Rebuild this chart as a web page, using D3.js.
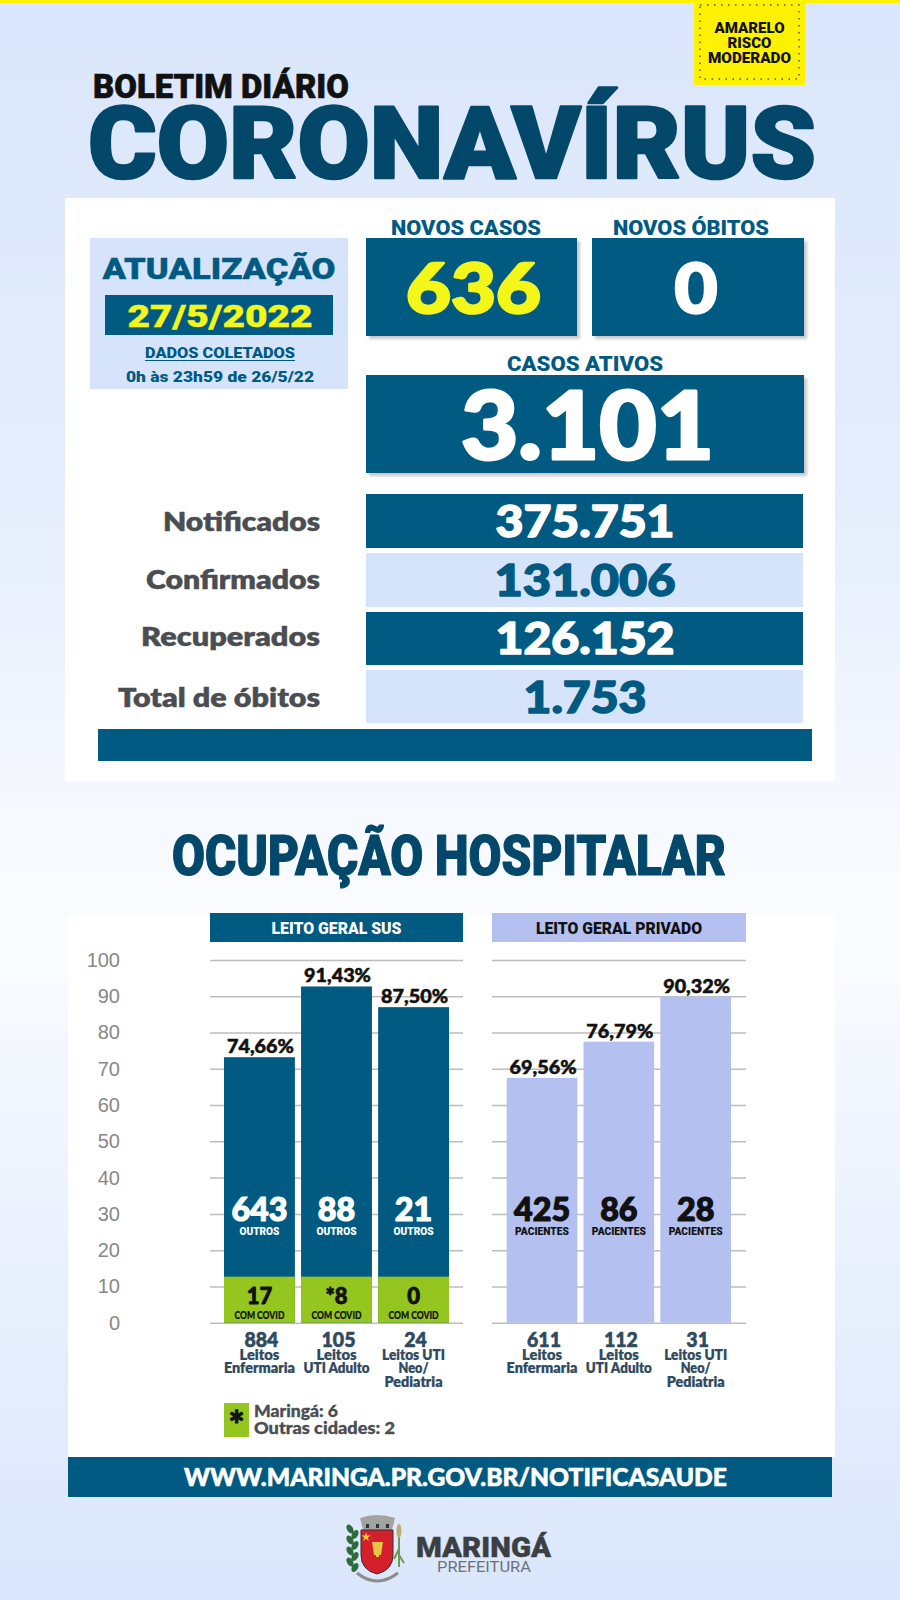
<!DOCTYPE html>
<html>
<head>
<meta charset="utf-8">
<script src="https://cdn.jsdelivr.net/npm/d3@7"></script>
<style>
  html, body { margin: 0; padding: 0; background: #fff; }
  svg { display: block; }
</style>
</head>
<body>
<svg id="chartSVG"></svg>
<script>
// values
let riskLines = ['AMARELO', 'RISCO', 'MODERADO'];
let headlineLabels = ['NOVOS CASOS', 'NOVOS ÓBITOS'];
let headlineValues = ['636', '0'];
let activeCases = '3.101';
let totalLabels = ['Notificados', 'Confirmados', 'Recuperados', 'Total de óbitos'];
let totalValues = ['375.751', '131.006', '126.152', '1.753'];
let totalLeft = [163, 146, 141, 118];

let yTicks = [0, 10, 20, 30, 40, 50, 60, 70, 80, 90, 100];

let bedTypes = [['Leitos', 'Enfermaria'], ['Leitos', 'UTI Adulto'], ['Leitos UTI', 'Neo/', 'Pediatria']];
let bedTypeWidths = [[40, 71], [40, 66], [63, 30, 58]];

let susBarHeights = [73.2, 92.7, 87];
let susCovidHeights = [12.7, 12.7, 12.7];
let susPercent = ['74,66%', '91,43%', '87,50%'];
let susOthers = ['643', '88', '21'];
let susCovid = ['17', '*8', '0'];
let susBeds = ['884', '105', '24'];

let privBarHeights = [67.5, 77.5, 89.9];
let privPercent = ['69,56%', '76,79%', '90,32%'];
let privPatients = ['425', '86', '28'];
let privBeds = ['611', '112', '31'];

let legendLines = ['Maringá: 6', 'Outras cidades: 2'];

let blue = '#005a82';
let titleBlue = '#03486a';
let paleBlue = '#d6e4fb';
let lilac = '#b4c0f0';
let green = '#95c61f';
let yellow = '#fff200';
let slate = '#2f4a60';
let heavy = 'Lato, Roboto, sans-serif';
let din = 'Roboto, Lato, sans-serif';

let SVG = d3.select('svg#chartSVG').attr('width', 900).attr('height', 1600);
let defs = SVG.append('defs');

let bg = defs.append('linearGradient').attr('id', 'bg').attr('x1', 0).attr('x2', 0).attr('y1', 0).attr('y2', 1);
bg.append('stop').attr('offset', '0').attr('stop-color', '#dae6fb');
bg.append('stop').attr('offset', '0.3').attr('stop-color', '#e4edfc');
bg.append('stop').attr('offset', '0.5').attr('stop-color', '#f5f8ff');
bg.append('stop').attr('offset', '0.58').attr('stop-color', '#fafcff');
bg.append('stop').attr('offset', '0.8').attr('stop-color', '#e9f0fd');
bg.append('stop').attr('offset', '1').attr('stop-color', '#dae6fb');

let shadow = defs.append('filter').attr('id', 'shadow').attr('x', '-5%').attr('y', '-5%').attr('width', '110%').attr('height', '115%');
shadow.append('feDropShadow').attr('dx', 3).attr('dy', 3).attr('stdDeviation', 1.5).attr('flood-color', '#000').attr('flood-opacity', 0.22);

function box(x0, y0, x1, y1, fill, useShadow) {
  let r = SVG.append('rect').attr('x', x0).attr('y', y0).attr('width', x1 - x0).attr('height', y1 - y0).attr('fill', fill);
  if (useShadow) r.attr('filter', 'url(#shadow)');
  return r;
}

// text squeezed to the width it has in the picture, stroked to look as heavy as the poster face
function label(parent, str, x, y, size, opts) {
  let o = opts || {};
  let fill = o.fill || '#111';
  let t = parent.append('text')
    .text(str)
    .attr('x', x)
    .attr('y', y)
    .style('font-family', o.font || heavy)
    .style('font-size', size + 'px')
    .style('font-weight', o.weight || 900)
    .style('fill', fill)
    .style('text-anchor', o.anchor || 'middle');
  if (o.width) t.attr('textLength', o.width).attr('lengthAdjust', 'spacingAndGlyphs');
  if (o.heft) t.style('stroke', fill).style('stroke-width', o.heft).style('stroke-linejoin', 'round');
  return t;
}

// page background
box(0, 0, 900, 1600, 'url(#bg)');
box(0, 0, 900, 3, '#fff200');

// risk badge
box(694, 0, 805, 85, yellow);
SVG.append('rect').attr('x', 700).attr('y', 5).attr('width', 99).attr('height', 74)
  .attr('fill', 'none').attr('stroke', '#555').attr('stroke-width', 1.5).attr('stroke-dasharray', '1.5 5.5');
riskLines.forEach((d, i) => label(SVG, d, 749.5, 33 + i * 15, 14, { font: din, width: [70, 44, 83][i] }));

// title
label(SVG, 'BOLETIM DIÁRIO', 93, 98, 33, { font: din, anchor: 'start', width: 256, heft: 0.6 });
label(SVG, 'CORONAVÍRUS', 452, 178, 100, { font: din, fill: titleBlue, width: 728, heft: 2.5 });

// top panel
box(65, 198, 835, 781, '#fff');
box(90, 238, 348, 389, paleBlue);
label(SVG, 'ATUALIZAÇÃO', 219, 279, 30, { font: din, fill: blue, width: 233, heft: 0.4 });
box(105, 295, 333, 335, blue);
label(SVG, '27/5/2022', 220, 327, 32, { font: din, fill: '#f4f61a', width: 185, heft: 0.4 });
label(SVG, 'DADOS COLETADOS', 220, 358, 14, { font: din, fill: blue, width: 150 });
box(145, 360, 295, 361, blue);
label(SVG, '0h às 23h59 de 26/5/22', 220, 382, 14, { font: din, fill: blue, width: 188 });

// headline numbers
let headX = [[366, 577], [592, 804]];
let headLabelWidth = [150, 156];
let headValueWidth = [135, 43];
let headFill = ['#f4f61a', '#fff'];
headlineLabels.forEach((d, i) => {
  box(headX[i][0], 238, headX[i][1], 336, blue, true);
  label(SVG, d, i ? 691 : 466, 235, 20, { font: din, fill: blue, width: headLabelWidth[i] });
  label(SVG, headlineValues[i], i ? 696 : 473.5, 313, 68, { fill: headFill[i], width: headValueWidth[i], heft: 2.5 });
});

label(SVG, 'CASOS ATIVOS', 585, 371, 20, { font: din, fill: blue, width: 156 });
box(366, 375, 804, 473, blue, true);
label(SVG, activeCases, 587.5, 459, 94, { fill: '#fff', width: 253, heft: 3 });

// running totals
let rowY = [[494, 548], [553, 607], [612, 665], [670, 723]];
let rowBase = [537, 596, 654, 713];
let labelBase = [531, 589, 646, 707];
let valueWidth = [179, 181, 179, 123];
totalLabels.forEach((d, i) => {
  let dark = i % 2 == 0;
  box(366, rowY[i][0], 803, rowY[i][1], dark ? blue : paleBlue);
  label(SVG, d, 320, labelBase[i], 26, { anchor: 'end', fill: '#4a4d52', weight: 800, width: 320 - totalLeft[i], heft: 0.4 });
  label(SVG, totalValues[i], 585, rowBase[i], 44, { fill: dark ? '#fff' : blue, width: valueWidth[i], heft: 1.5 });
});
box(98, 729, 812, 761, blue);

// hospital section
label(SVG, 'OCUPAÇÃO HOSPITALAR', 449, 875, 56, { font: din, fill: titleBlue, width: 554, heft: 1.2 });
box(68, 915, 835, 1457, '#fff');

let y = d3.scaleLinear().domain([0, 100]).range([1322.7, 960]);

// y axis labels
let yAxis = SVG.append('g')
  .attr('transform', 'translate(120, 0)')
  .call(d3.axisLeft(y).tickValues(yTicks).tickSize(0).tickPadding(0));
yAxis.select('.domain').remove();
yAxis.selectAll('text')
  .style('font-family', '"Liberation Sans", Arial, sans-serif')
  .style('font-size', '20px')
  .style('fill', '#888');

function drawPanel(opts) {
  let g = SVG.append('g');
  let x = d3.scaleBand().domain(d3.range(3)).range(opts.barRange).paddingInner(0.08);
  let mid = i => x(i) + x.bandwidth() / 2;

  box(opts.gridRange[0], 913, opts.gridRange[1], 942, opts.headFill);
  label(SVG, opts.title, (opts.gridRange[0] + opts.gridRange[1]) / 2, 934, 16, { font: din, fill: opts.headText, width: opts.titleWidth });

  // grid lines come from the axis ticks
  let grid = g.append('g')
    .attr('transform', `translate(${opts.gridRange[0]}, 0)`)
    .call(d3.axisRight(y).tickValues(yTicks).tickSize(opts.gridRange[1] - opts.gridRange[0]).tickFormat(''));
  grid.select('.domain').remove();
  grid.selectAll('line').attr('stroke', '#bdbdbd').attr('stroke-width', 1.5);

  g.selectAll('rect.bar')
    .data(opts.heights)
    .enter()
    .append('rect')
    .attr('class', 'bar')
    .attr('x', (d, i) => x(i))
    .attr('width', x.bandwidth())
    .attr('y', d => y(d))
    .attr('height', d => y(0) - y(d))
    .attr('fill', opts.barFill);

  if (opts.covidHeights) {
    g.selectAll('rect.covid')
      .data(opts.covidHeights)
      .enter()
      .append('rect')
      .attr('class', 'covid')
      .attr('x', (d, i) => x(i))
      .attr('width', x.bandwidth())
      .attr('y', d => y(d))
      .attr('height', d => y(0) - y(d))
      .attr('fill', green);
    opts.covid.forEach((d, i) => {
      label(g, d, mid(i), 1304, 22, { heft: 0.8 });
      label(g, 'COM COVID', mid(i), 1319, 11, { width: 50, heft: 0.2 });
    });
  }

  opts.percent.forEach((d, i) => {
    label(g, d, mid(i) + 1, y(opts.heights[i]) - 4, 18, { width: 67, heft: 0.5 });
    label(g, opts.main[i], mid(i), 1221, 32, { fill: opts.mainFill, width: opts.main[i].length * 18.7, heft: 1.2 });
    label(g, opts.sub, mid(i), 1235, 11.5, { font: din, fill: opts.mainFill, width: opts.subWidth });
    label(g, opts.beds[i], mid(i) + 2, 1347, 20, { fill: slate, width: opts.beds[i].length * 11.3, heft: 0.6 });
    bedTypes[i].forEach((line, j) => {
      label(g, line, mid(i), 1359.5 + j * 13.7, 14, { fill: slate, weight: 800, width: bedTypeWidths[i][j], heft: 0.2 });
    });
  });
}

drawPanel({
  title: 'LEITO GERAL SUS', titleWidth: 130, headFill: blue, headText: '#fff',
  barRange: [224, 449], gridRange: [210, 463], barFill: blue,
  heights: susBarHeights, covidHeights: susCovidHeights, covid: susCovid,
  percent: susPercent, main: susOthers, mainFill: '#fff', sub: 'OUTROS', subWidth: 40, beds: susBeds
});
drawPanel({
  title: 'LEITO GERAL PRIVADO', titleWidth: 166, headFill: lilac, headText: '#111',
  barRange: [506.7, 731], gridRange: [492, 746], barFill: lilac,
  heights: privBarHeights, percent: privPercent, main: privPatients, mainFill: '#111',
  sub: 'PACIENTES', subWidth: 54, beds: privBeds
});

// asterisk note
box(224, 1403, 249, 1437, green);
label(SVG, '*', 236.5, 1439, 38, { fill: '#111', heft: 1 });
legendLines.forEach((d, i) => label(SVG, d, 254, 1417 + i * 16.5, 16, { anchor: 'start', fill: '#4a4d52', width: [84, 141][i], heft: 0.3 }));

// footer
box(68, 1457, 832, 1497, blue);
label(SVG, 'WWW.MARINGA.PR.GOV.BR/NOTIFICASAUDE', 455.5, 1486, 24, { fill: '#fff', width: 543, heft: 0.6 });

// city crest, drawn roughly
let crest = SVG.append('g').attr('transform', 'translate(340, 1505)');
d3.range(8).forEach(i => {
  crest.append('ellipse').attr('cx', 11 + (i % 2 ? 4 : -1)).attr('cy', 24 + i * 5.5).attr('rx', 3).attr('ry', 5)
    .attr('transform', `rotate(${i % 2 ? 30 : -30} ${11 + (i % 2 ? 4 : -1)} ${24 + i * 5.5})`).attr('fill', '#2e6b3a');
});
crest.append('path').attr('d', 'M59 22 L59 62 M59 44 L54 54 M59 50 L64 58').attr('stroke', '#6f9a52').attr('stroke-width', 2).attr('fill', 'none');
crest.append('ellipse').attr('cx', 59).attr('cy', 26).attr('rx', 2.5).attr('ry', 7).attr('fill', '#bfae6a');
crest.append('path').attr('d', 'M20 13 Q37 7 55 13 L52 25 L23 25Z').attr('fill', '#a3a3a3');
crest.append('path').attr('d', 'M26 19 h3 v4 h-3z M36 19 h3 v4 h-3z M46 19 h3 v4 h-3z').attr('fill', '#333');
crest.append('path').attr('d', 'M17 68 Q37 84 58 68').attr('stroke', '#8d8d8d').attr('stroke-width', 3).attr('fill', 'none');
crest.append('path').attr('d', 'M21 25 H53 V50 Q53 65 37 69 Q21 65 21 50Z').attr('fill', '#d3202a').attr('stroke', '#333').attr('stroke-width', 1);
crest.append('path').attr('d', d3.symbol(d3.symbolStar, 26)()).attr('transform', 'translate(26, 32)').attr('fill', '#f2cf3e');
crest.append('path').attr('d', 'M32 37 L43 37 L41 50 L34 50Z M36 50 h3 v2 h-3z').attr('fill', '#e8c547');

label(SVG, 'MARINGÁ', 483.5, 1557, 27, { font: din, fill: '#3b3f44', width: 135, heft: 0.4 });
label(SVG, 'PREFEITURA', 484, 1572, 14, { font: din, fill: '#6d7177', weight: 400, width: 94 });
</script>
</body>
</html>
